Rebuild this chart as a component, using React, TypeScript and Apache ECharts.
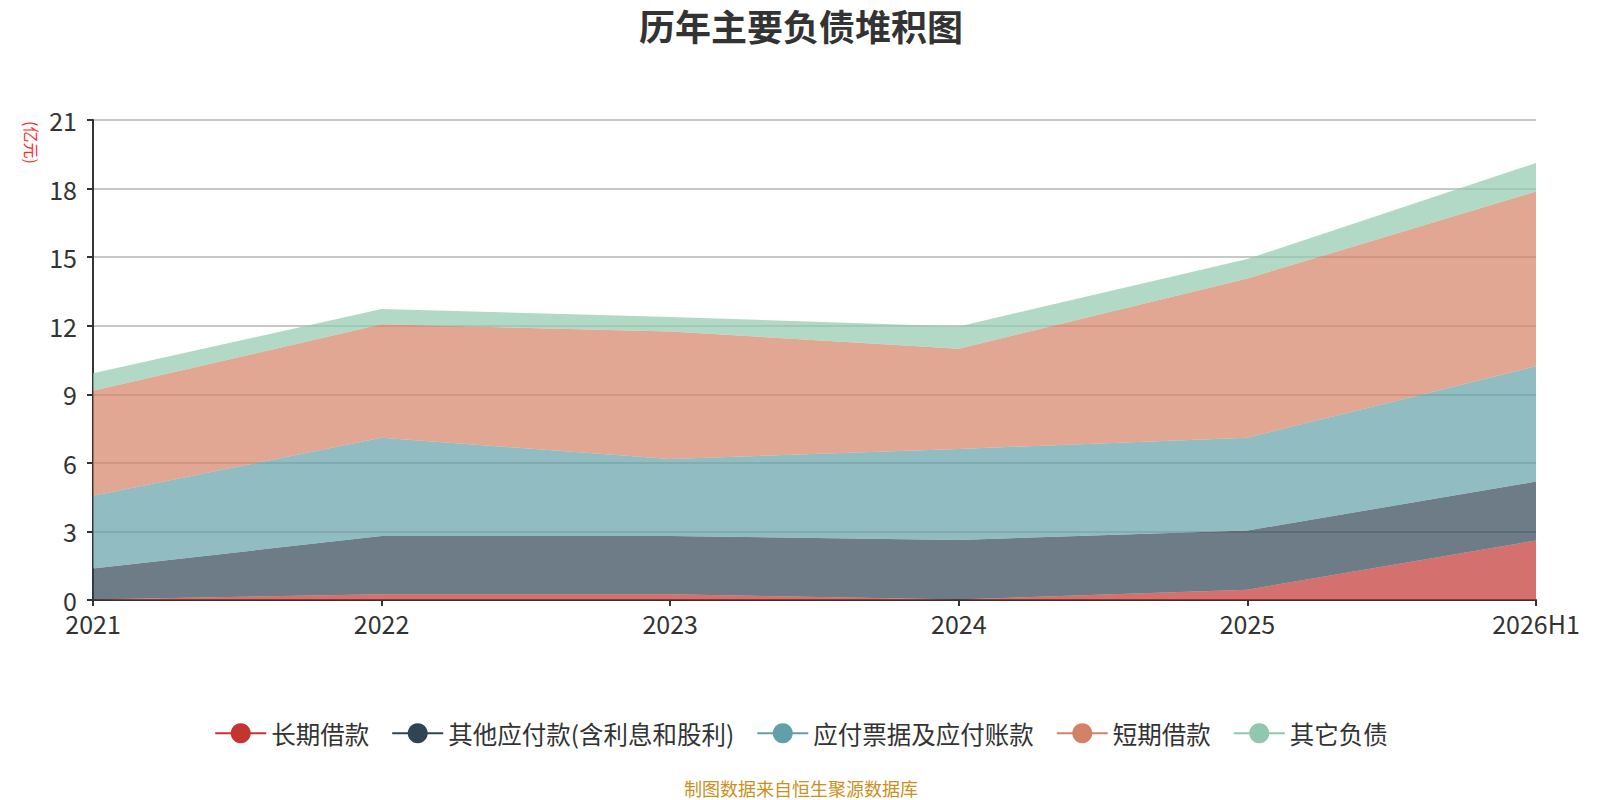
import { useEffect, useRef } from 'react';
import * as echarts from 'echarts';

const years = ['2021', '2022', '2023', '2024', '2025', '2026H1'];
const longLoans = [0.02, 0.25, 0.25, 0.02, 0.45, 2.6];
const otherPayables = [1.36, 2.55, 2.55, 2.61, 2.59, 2.58];
const notesPayables = [3.18, 4.3, 3.37, 3.98, 4.06, 5.05];
const shortLoans = [4.6, 4.96, 5.58, 4.38, 6.97, 7.64];
const otherLiabilities = [0.76, 0.67, 0.63, 0.98, 0.85, 1.25];

const seriesNames = ['长期借款', '其他应付款(含利息和股利)', '应付票据及应付账款', '短期借款', '其它负债'];
const colors = ['#c23531', '#2f4554', '#61a0a8', '#d48265', '#91c7ae'];

const FONT = '"Noto Sans CJK SC", "Noto Sans", sans-serif';

export default function App() {
  const ref = useRef<HTMLDivElement>(null);

  useEffect(() => {
    document.body.style.margin = '0';
    document.body.style.overflow = 'hidden';
    if (!ref.current) return;
    const chart = echarts.init(ref.current, null, { renderer: 'svg' });
    const values = [longLoans, otherPayables, notesPayables, shortLoans, otherLiabilities];

    chart.setOption({
      animation: false,
      color: colors,
      textStyle: { fontFamily: FONT },
      title: {
        text: '历年主要负债堆积图',
        left: 'center',
        top: 2,
        textStyle: { fontSize: 36, fontWeight: 'bold', color: '#333', fontFamily: FONT },
      },
      legend: {
        data: seriesNames,
        top: 716,
        left: 'center',
        itemWidth: 51,
        itemHeight: 25,
        itemGap: 22,
        textStyle: { fontSize: 24.5, color: '#333', fontFamily: FONT },
        lineStyle: { width: 2 },
      },
      grid: { left: 93, top: 120, width: 1443, height: 480 },
      xAxis: {
        type: 'category',
        boundaryGap: false,
        data: years,
        axisLine: { lineStyle: { color: '#333', width: 2 } },
        axisTick: { lineStyle: { color: '#333', width: 2 }, length: 6 },
        axisLabel: { fontSize: 25, color: '#333', margin: 10, fontFamily: FONT },
      },
      yAxis: {
        type: 'value',
        min: 0,
        max: 21,
        interval: 3,
        axisLine: { show: true, lineStyle: { color: '#333', width: 2 } },
        axisTick: { show: true, lineStyle: { color: '#333', width: 2 }, length: 6 },
        axisLabel: { fontSize: 25, color: '#333', margin: 16, fontFamily: FONT },
        splitLine: { lineStyle: { color: '#c8c8c8', width: 2 } },
      },
      graphic: [
        {
          type: 'text',
          x: 32,
          y: 121,
          rotation: -Math.PI / 2,
          style: {
            text: '(亿元)',
            fill: '#ff2a2a',
            fontSize: 16,
            fontFamily: FONT,
            textAlign: 'left',
            textVerticalAlign: 'middle',
          },
        },
        {
          type: 'text',
          left: 'center',
          top: 779,
          style: {
            text: '制图数据来自恒生聚源数据库',
            fill: '#c9901e',
            fontSize: 18,
            fontFamily: FONT,
          },
        },
      ],
      series: seriesNames.map((name, i) => ({
        name,
        type: 'line',
        stack: 'total',
        data: values[i],
        symbol: 'circle',
        showSymbol: false,
        lineStyle: { width: 0 },
        areaStyle: { opacity: 0.7 },
        itemStyle: { color: colors[i] },
      })),
    });

    return () => chart.dispose();
  }, []);

  return <div ref={ref} style={{ width: 1602, height: 816 }} />;
}
